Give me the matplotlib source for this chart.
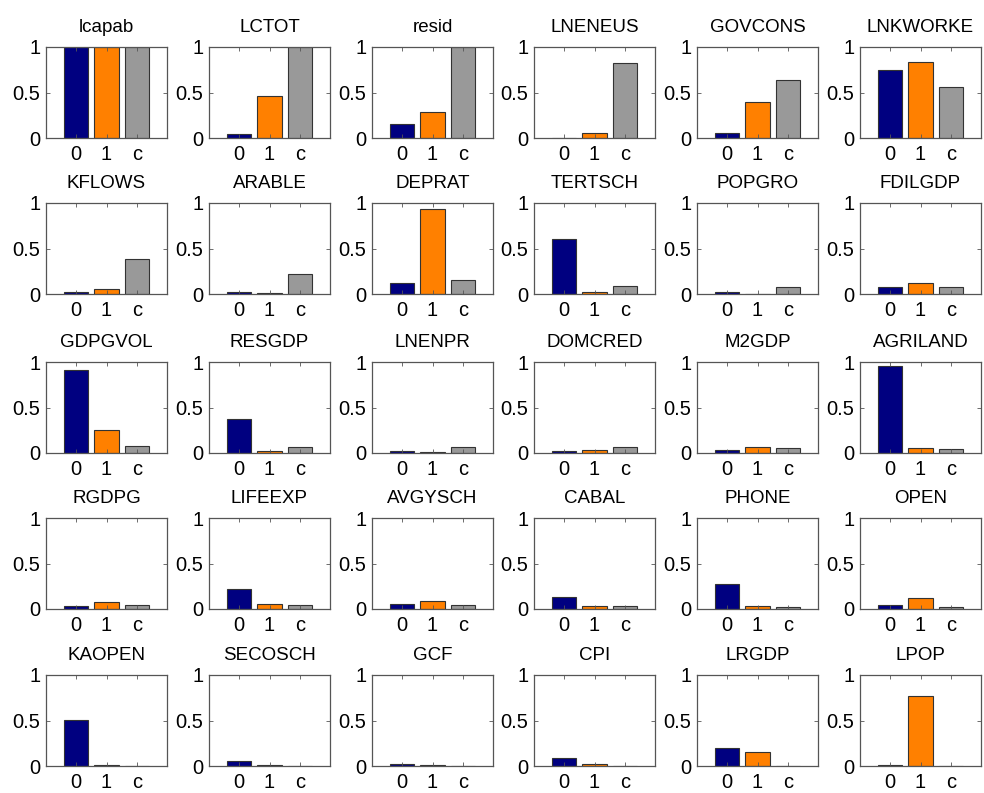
import matplotlib
matplotlib.use("Agg")
import matplotlib.pyplot as plt

plt.rcParams['font.family'] = ['Liberation Sans', 'DejaVu Sans']

names = ["lcapab", "LCTOT", "resid", "LNENEUS", "GOVCONS", "LNKWORKE",
         "KFLOWS", "ARABLE", "DEPRAT", "TERTSCH", "POPGRO", "FDILGDP",
         "GDPGVOL", "RESGDP", "LNENPR", "DOMCRED", "M2GDP", "AGRILAND",
         "RGDPG", "LIFEEXP", "AVGYSCH", "CABAL", "PHONE", "OPEN",
         "KAOPEN", "SECOSCH", "GCF", "CPI", "LRGDP", "LPOP"]

# share for regime 0, regime 1 and common (c)
vals_0 = [1.00, 0.048, 0.15, 0.005, 0.055, 0.75,
          0.025, 0.025, 0.12, 0.60, 0.025, 0.08,
          0.91, 0.37, 0.025, 0.025, 0.036, 0.96,
          0.03, 0.22, 0.05, 0.135, 0.28, 0.04,
          0.505, 0.06, 0.025, 0.085, 0.20, 0.008]
vals_1 = [1.00, 0.46, 0.29, 0.05, 0.40, 0.83,
          0.06, 0.01, 0.93, 0.025, 0.005, 0.12,
          0.25, 0.018, 0.015, 0.03, 0.066, 0.05,
          0.077, 0.06, 0.085, 0.037, 0.03, 0.125,
          0.015, 0.015, 0.01, 0.018, 0.15, 0.77]
vals_c = [1.00, 1.00, 1.00, 0.827, 0.64, 0.555,
          0.38, 0.22, 0.15, 0.087, 0.075, 0.075,
          0.08, 0.07, 0.065, 0.065, 0.05, 0.04,
          0.04, 0.04, 0.04, 0.03, 0.025, 0.02,
          0.002, 0.002, 0.002, 0.0, 0.0, 0.0]

labels = ["0", "1", "c"]
colors = ["#000080", "#ff8000", "#999999"]

fig = plt.figure(figsize=(9.84, 7.93), dpi=100)
W, H = 984, 793
ax_w, ax_h = 121, 91
lefts = [46, 209, 372, 534, 697, 860]
tops = [47, 203, 362, 518, 675]

for i, name in enumerate(names):
    r, c = divmod(i, 6)
    ax = fig.add_axes([lefts[c] / W, 1 - (tops[r] + ax_h) / H, ax_w / W, ax_h / H])
    ax.bar([1, 2, 3], [vals_0[i], vals_1[i], vals_c[i]], width=0.8,
           color=colors, edgecolor="#333333", linewidth=0.8)
    ax.set_xlim(0, 4)
    ax.set_ylim(0, 1)
    ax.set_xticks([1, 2, 3])
    ax.set_xticklabels(labels)
    ax.set_yticks([0, 0.5, 1])
    ax.set_yticklabels(["0", "0.5", "1"])
    ax.tick_params(direction="in", length=3, width=0.6, labelsize=14.5,
                   top=True, right=True, color="#555555", pad=4)
    ax.tick_params(axis="x", pad=5)
    for s in ax.spines.values():
        s.set_color("#555555")
        s.set_linewidth(0.9)
    ax.set_title(name, fontsize=13.5, pad=11)

fig.savefig("out.png", dpi=100)
